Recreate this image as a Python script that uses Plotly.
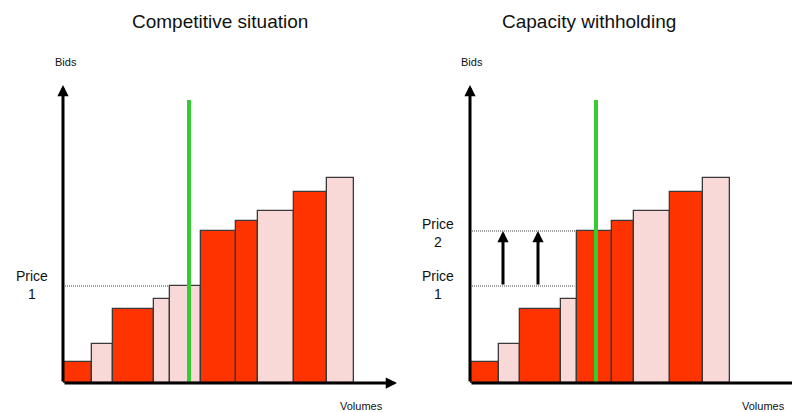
import plotly.graph_objects as go

# ---- data ----
volumes = [28.5, 21.5, 41, 15.5, 31, 35.5, 22, 36, 32.5, 27.5]     # capacity of each bid block
bids = [21, 39, 74, 84, 97, 152, 162, 172, 191, 205]                # bid price of each block
owner = ["red", "pink", "red", "pink", "pink", "red", "red", "pink", "red", "pink"]
withheld_index = 4          # block withdrawn in the capacity withholding case
demand = 126                # vertical demand line
price1 = 97
price2 = 152
arrow_x = [33, 68]
titles = ["Competitive situation", "Capacity withholding"]

COLORS = {"red": "#FF3300", "pink": "#F9D9D8"}
W, H = 792, 412

def blocks(vols, prices, owners):
    xs, ws, ys, cs = [], [], [], []
    start = 0
    for v, p, o in zip(vols, prices, owners):
        xs.append(start + v / 2)
        ws.append(v)
        ys.append(p)
        cs.append(COLORS[o])
        start += v
    return xs, ws, ys, cs

fig = go.Figure()

left = blocks(volumes, bids, owner)
keep = [i for i in range(len(volumes)) if i != withheld_index]
right = blocks([volumes[i] for i in keep], [bids[i] for i in keep], [owner[i] for i in keep])

for (xs, ws, ys, cs), xa, ya in [(left, "x", "y"), (right, "x2", "y2")]:
    fig.add_trace(go.Bar(x=xs, y=ys, width=ws, base=0, marker=dict(color=cs, line=dict(color="#3a3a3a", width=1.3)),
                         xaxis=xa, yaxis=ya, showlegend=False, hoverinfo="skip"))
    fig.add_trace(go.Scatter(x=[demand, demand], y=[1, 283], mode="lines",
                             line=dict(color="#33CC33", width=4), xaxis=xa, yaxis=ya,
                             showlegend=False, hoverinfo="skip"))

# dotted price lines
start5 = sum(volumes[:withheld_index])
dot = dict(color="#444444", width=1, dash="1px,1px")
fig.add_shape(type="line", xref="x", yref="y", x0=0, x1=start5, y0=price1, y1=price1, line=dot)
fig.add_shape(type="line", xref="x2", yref="y2", x0=0, x1=start5 - 2, y0=price1, y1=price1, line=dot)
fig.add_shape(type="line", xref="x2", yref="y2", x0=0, x1=start5, y0=price2, y1=price2, line=dot)

ann = []
# axis arrows
for xa, ya, xmax in [("x", "y", 334), ("x2", "y2", 340)]:
    ann.append(dict(x=0, y=298, ax=0, ay=0, xref=xa, yref=ya, axref=xa, ayref=ya,
                    showarrow=True, arrowhead=2, arrowwidth=3, arrowsize=0.75, arrowcolor="black", text=""))
    ann.append(dict(x=xmax, y=0, ax=0, ay=0, xref=xa, yref=ya, axref=xa, ayref=ya,
                    showarrow=True, arrowhead=2, arrowwidth=3, arrowsize=0.75, arrowcolor="black", text=""))
# price increase arrows
for ax_ in arrow_x:
    ann.append(dict(x=ax_, y=price2, ax=ax_, ay=price1, xref="x2", yref="y2", axref="x2", ayref="y2",
                    showarrow=True, arrowhead=2, arrowwidth=3, arrowsize=0.75, arrowcolor="black", text=""))

def ptext(txt, px, py, size, anchor="center"):
    ann.append(dict(text=txt, x=px / W, y=1 - py / H, xref="paper", yref="paper", showarrow=False,
                    xanchor=anchor, yanchor="middle", font=dict(size=size, color="#111111")))

ptext(titles[0], 220, 22, 19)
ptext(titles[1], 589, 22, 19)
ptext("Bids", 66, 62, 11)
ptext("Bids", 472, 62, 11)
ptext("Volumes", 361, 406, 11)
ptext("Volumes", 740, 406, 11, "left")
ptext("Price<br>1", 32, 285, 14)
ptext("Price<br>2", 438, 233, 14)
ptext("Price<br>1", 438, 285, 14)

ax_common = dict(showgrid=False, zeroline=False, showticklabels=False, showline=False, ticks="")
fig.update_layout(
    width=W, height=H, margin=dict(l=0, r=0, t=0, b=0),
    paper_bgcolor="white", plot_bgcolor="white", barmode="overlay", bargap=0,
    font=dict(family="Liberation Sans, Arial, sans-serif"),
    xaxis=dict(domain=[63 / W, 397 / W], range=[0, 334], **ax_common),
    yaxis=dict(domain=[29 / H, 327 / H], range=[0, 298], **ax_common),
    xaxis2=dict(domain=[470 / W, 1.0], range=[0, 322], anchor="y2", **ax_common),
    yaxis2=dict(domain=[29 / H, 327 / H], range=[0, 298], anchor="x2", **ax_common),
    annotations=ann,
)

fig.write_html("out.html", config={"displayModeBar": False},
               post_script="document.body.style.margin='0';document.body.style.overflow='hidden';")
